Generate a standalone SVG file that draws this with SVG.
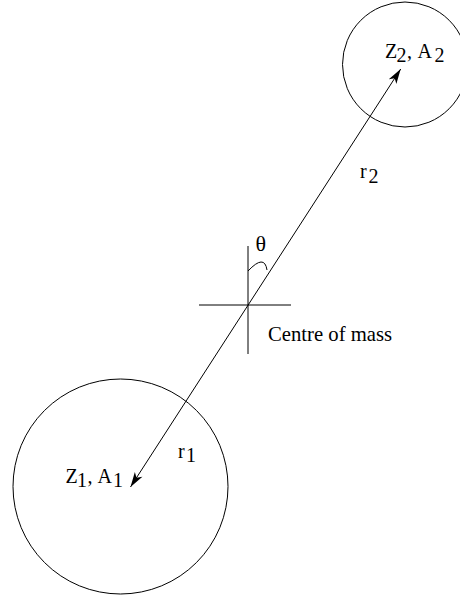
<svg xmlns="http://www.w3.org/2000/svg" width="460" height="601" viewBox="0 0 460 601">
<style>
  .ln { fill: none; stroke: #000; stroke-width: 1; }
  .tx { font-family: "Liberation Serif", "Times New Roman", serif; font-size: 20px; fill: #000; }
</style>
<defs>
  <marker id="arr" markerUnits="userSpaceOnUse" markerWidth="20" markerHeight="12" refX="0" refY="0" viewBox="-16 -6 17 12" orient="auto-start-reverse" overflow="visible">
    <path d="M0,0 L-15,-4.5 L-11,0 L-15,4.5 Z" fill="#000"/>
  </marker>
</defs>
<rect width="460" height="601" fill="#fff"/>
<g id="nucleus2">
  <circle class="ln" cx="405" cy="64.5" r="62.5"/>
  <text class="tx" y="58.3"><tspan x="385">Z</tspan><tspan x="396.5" y="61.7">2</tspan><tspan x="407" y="58.3">,</tspan><tspan x="417.5">A</tspan><tspan x="434.5" y="61.7">2</tspan></text>
</g>
<g id="nucleus1">
  <circle class="ln" cx="120.5" cy="486.5" r="107.5"/>
  <text class="tx" y="483.3"><tspan x="65.5">Z</tspan><tspan x="77" y="486.7">1</tspan><tspan x="87.5" y="483.3">,</tspan><tspan x="97.5">A</tspan><tspan x="113" y="486.7">1</tspan></text>
</g>
<g id="centre">
  <line class="ln" x1="248" y1="246" x2="248" y2="354"/>
  <line class="ln" x1="199" y1="305" x2="291" y2="305"/>
  <text class="tx" x="268" y="340.5" style="font-size:20.7px">Centre of mass</text>
</g>
<g id="angle">
  <path class="ln" d="M248,271 Q264.5,253.5 267,270"/>
  <text class="tx" x="255.5" y="250.5" style="font-size:22px">θ</text>
</g>
<g id="connectors">
  <line class="ln" x1="130.5" y1="487" x2="400.7" y2="69" marker-start="url(#arr)" marker-end="url(#arr)"/>
  <text class="tx" y="178.3"><tspan x="360">r</tspan><tspan x="368.5" y="182.5">2</tspan></text>
  <text class="tx" y="458.3"><tspan x="178">r</tspan><tspan x="186" y="461.7">1</tspan></text>
</g>
</svg>
